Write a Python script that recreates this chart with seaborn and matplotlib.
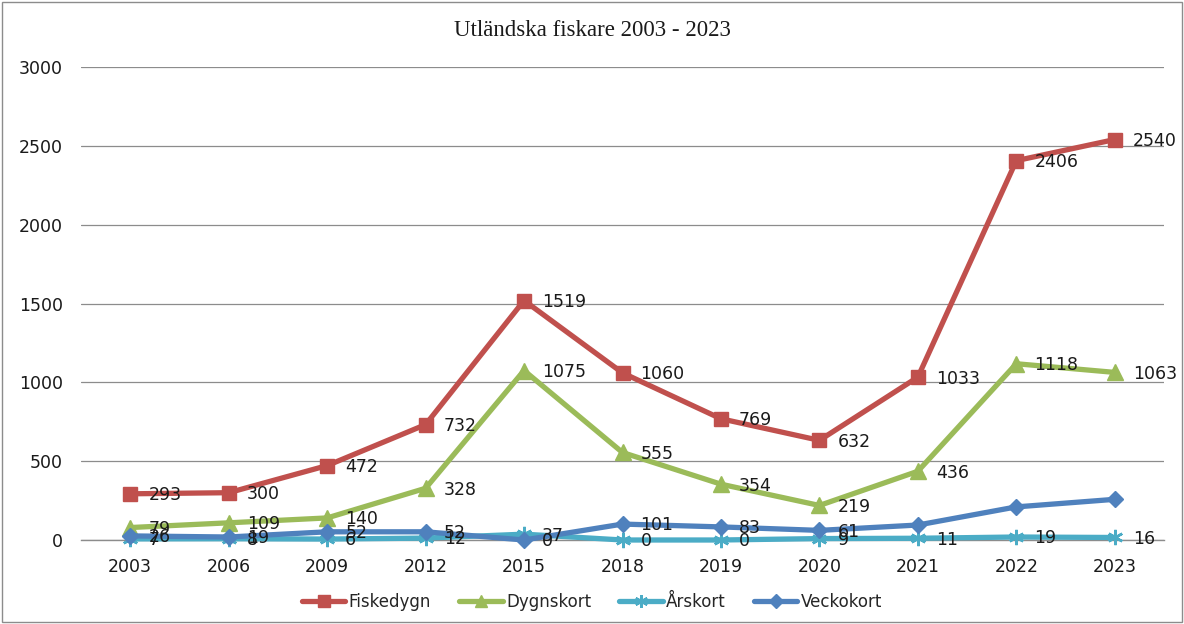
import matplotlib
matplotlib.use("Agg")
import matplotlib.pyplot as plt
import seaborn as sns
import pandas as pd
from matplotlib.patches import Rectangle

years = ["2003", "2006", "2009", "2012", "2015", "2018", "2019", "2020", "2021", "2022", "2023"]
fiskedygn = [293, 300, 472, 732, 1519, 1060, 769, 632, 1033, 2406, 2540]
dygnskort = [79, 109, 140, 328, 1075, 555, 354, 219, 436, 1118, 1063]
arskort = [7, 8, 6, 12, 37, 0, 0, 9, 11, 19, 16]
veckokort = [26, 19, 52, 52, 0, 101, 83, 61, 95, 210, 258]
veckokort_labeled = 8  # labels shown for first 8 points

sns.set_theme(style="white")
plt.rcParams['font.family'] = ['DejaVu Sans']

fig = plt.figure(figsize=(11.84, 6.24), dpi=100)
ax = fig.add_axes([81/1184, 1-540/624, (1164-81)/1184, (540-67)/624])

series = [
    ("Fiskedygn", fiskedygn, "#C0504D", "s", 10, len(years)),
    ("Dygnskort", dygnskort, "#9BBB59", "^", 11, len(years)),
    ("Årskort", arskort, "#4BACC6", (6, 2, 0), 11, len(years)),
    ("Veckokort", veckokort, "#4F81BD", "D", 8, veckokort_labeled),
]

x = list(range(len(years)))
for name, vals, col, mk, ms, nlab in series:
    df = pd.DataFrame({"x": x, "y": vals})
    sns.lineplot(data=df, x="x", y="y", ax=ax, color=col, linewidth=3.8,
                 marker=mk, markersize=ms, markeredgecolor=col,
                 markeredgewidth=1.8 if name == "Årskort" else 1,
                 label=name, zorder=3, clip_on=False)

for name, vals, col, mk, ms, nlab in series:
    for i in range(nlab):
        ax.annotate(str(vals[i]), (x[i], vals[i]), xytext=(13, -1),
                    textcoords="offset points", ha="left", va="center",
                    fontsize=12.5, color="#1a1a1a", zorder=5, annotation_clip=False)

ax.set_xlim(-0.5, len(years) - 0.5)
ax.set_ylim(0, 3000)
ax.set_yticks(range(0, 3001, 500))
ax.set_xticks(x)
ax.set_xticklabels(years)
ax.tick_params(axis="both", labelsize=12.5, colors="#1a1a1a", length=0)
ax.tick_params(axis="y", pad=13)
ax.tick_params(axis="x", pad=13)
ax.set_xlabel("")
ax.set_ylabel("")
ax.yaxis.grid(True, color="#8c8c8c", linewidth=0.9)
ax.set_axisbelow(True)
for s in ["top", "right", "left"]:
    ax.spines[s].set_visible(False)
ax.spines["bottom"].set_color("#8c8c8c")
ax.spines["bottom"].set_linewidth(1)
ax.spines["bottom"].set_zorder(2)

fig.text(0.5, 1-31/624, "Utländska fiskare 2003 - 2023", ha="center", va="center",
         fontsize=16.5, family="Liberation Serif", color="#1a1a1a")

leg = ax.legend(loc="center", bbox_to_anchor=(0.5, 1-602/624), bbox_transform=fig.transFigure,
                ncol=4, frameon=False, fontsize=12, handlelength=2.6, columnspacing=1.7,
                handletextpad=0.2, markerscale=0.85)

fig.patches.append(Rectangle((0.002, 0.003), 0.996, 0.994, transform=fig.transFigure,
                             fill=False, edgecolor="#8c8c8c", linewidth=1))

fig.savefig("out.png", dpi=100)
